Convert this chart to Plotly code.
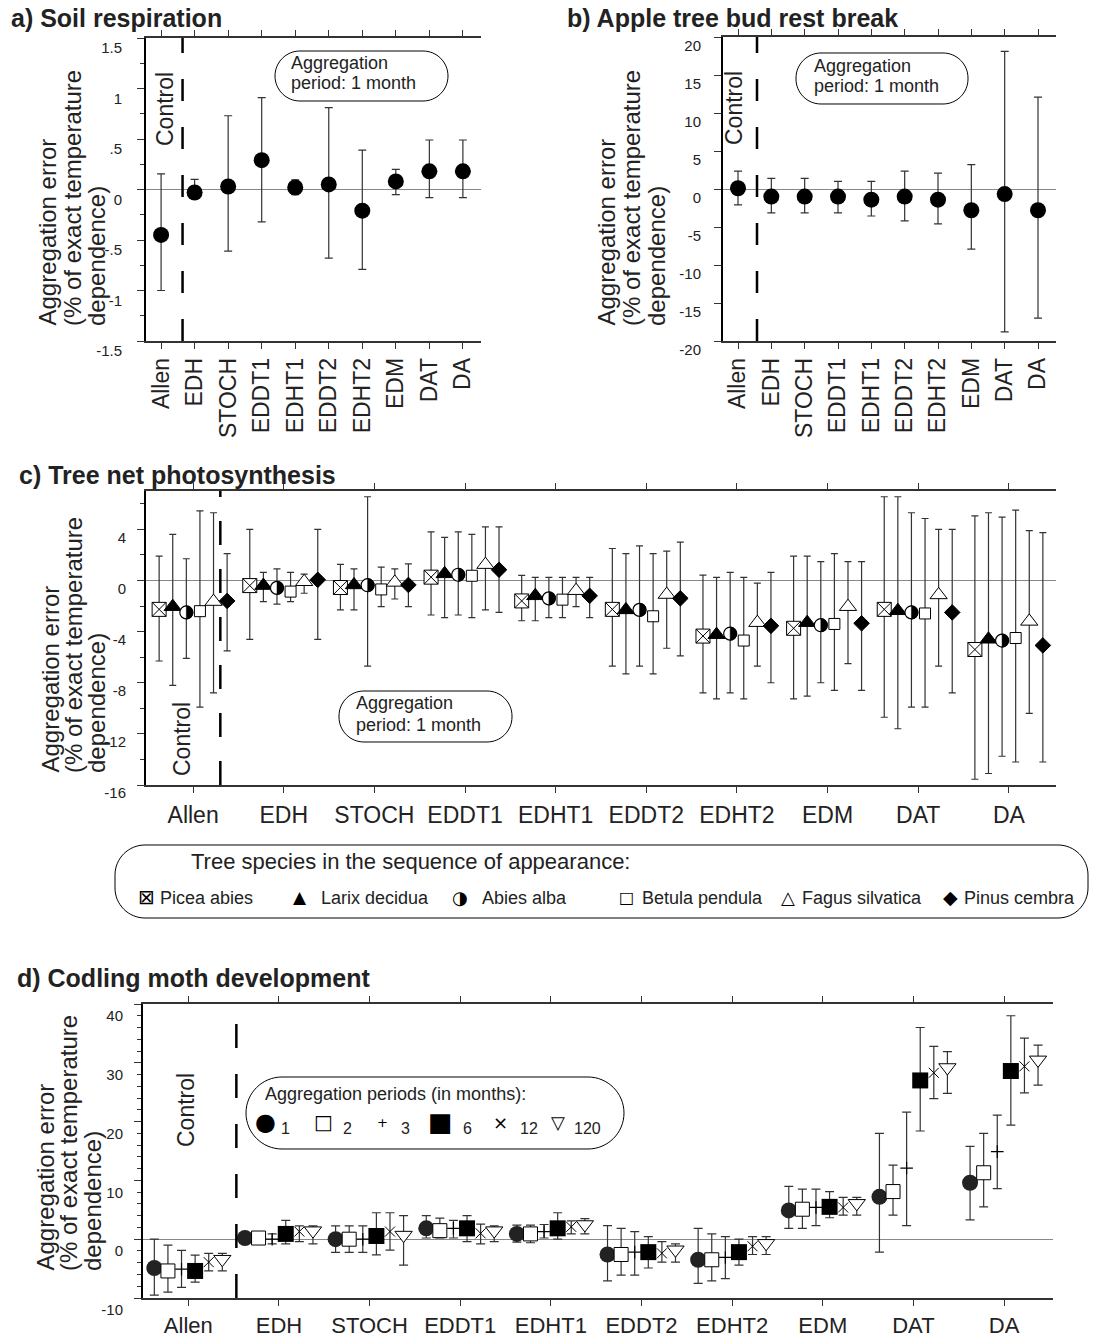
import plotly.graph_objects as go

W, H = 1094, 1344
FONT = "Liberation Sans, Arial, sans-serif"
SYM = "DejaVu Sans"

def fx(x):
    return x / W

def fy(y):
    return 1 - y / H

# ---------------- data ----------------
categories = ["Allen", "EDH", "STOCH", "EDDT1", "EDHT1", "EDDT2", "EDHT2", "EDM", "DAT", "DA"]

# a) Soil respiration (aggregation period 1 month)
soil_val = [-0.45, -0.03, 0.03, 0.29, 0.02, 0.05, -0.21, 0.08, 0.18, 0.18]
soil_hi = [0.155, 0.10, 0.73, 0.91, 0.095, 0.81, 0.39, 0.20, 0.49, 0.49]
soil_lo = [-1.0, -0.08, -0.61, -0.32, -0.05, -0.68, -0.79, -0.05, -0.08, -0.08]

# b) Apple tree bud rest break
apple_val = [0.1, -1.0, -1.0, -1.0, -1.4, -1.0, -1.4, -2.8, -0.67, -2.8]
apple_hi = [2.35, 1.4, 1.4, 1.0, 1.0, 2.35, 2.1, 3.2, 18.1, 12.1]
apple_lo = [-2.1, -3.15, -3.15, -3.15, -3.55, -4.2, -4.6, -7.9, -18.8, -17.0]

# c) Tree net photosynthesis, per species
species = ["Picea abies", "Larix decidua", "Abies alba", "Betula pendula", "Fagus silvatica", "Pinus cembra"]
picea_val = [-2.26, -0.4, -0.55, 0.26, -1.6, -2.26, -4.35, -3.74, -2.26, -5.4]
picea_hi = [1.9, 4.0, 1.26, 3.8, 0.4, 2.5, 0.42, 1.9, 6.55, 5.05]
picea_lo = [-6.3, -4.6, -2.3, -2.7, -3.15, -6.7, -8.8, -9.26, -10.7, -15.55]
larix_val = [-2.05, -0.4, -0.35, 0.52, -1.2, -2.3, -4.24, -3.3, -2.37, -4.6]
larix_hi = [3.6, 0.63, 0.9, 3.37, 0.24, 2.1, 0.24, 1.9, 6.55, 5.3]
larix_lo = [-8.2, -1.65, -2.3, -2.9, -3.15, -7.3, -9.26, -9.05, -11.6, -15.1]
abies_val = [-2.5, -0.58, -0.37, 0.45, -1.4, -2.3, -4.16, -3.5, -2.5, -4.7]
abies_hi = [1.7, 0.9, 6.55, 3.8, 0.24, 2.7, 0.63, 1.47, 5.3, 4.95]
abies_lo = [-6.1, -1.85, -6.7, -2.7, -2.9, -6.7, -8.8, -8.0, -9.9, -13.75]
betula_val = [-2.4, -0.87, -0.7, 0.37, -1.5, -2.8, -4.7, -3.4, -2.58, -4.5]
betula_hi = [5.45, 0.63, 1.05, 3.6, 0.24, 2.1, 0.24, 2.1, 4.85, 5.5]
betula_lo = [-9.9, -1.65, -2.05, -2.9, -2.9, -7.3, -9.26, -8.6, -9.9, -14.2]
fagus_val = [-1.65, -0.1, -0.15, 1.24, -0.8, -1.1, -3.3, -2.05, -1.13, -3.2]
fagus_hi = [5.3, 0.5, 0.9, 4.2, 0.24, 2.3, -0.2, 1.47, 4.0, 3.9]
fagus_lo = [-8.8, -1.0, -1.45, -2.3, -2.05, -5.3, -6.7, -6.5, -6.7, -10.4]
pinus_val = [-1.6, 0.05, -0.35, 0.84, -1.2, -1.4, -3.55, -3.35, -2.5, -5.08]
pinus_hi = [2.1, 4.0, 1.3, 4.2, 0.24, 3.0, 0.63, 1.47, 4.0, 3.75]
pinus_lo = [-5.5, -4.6, -2.05, -2.5, -2.9, -5.9, -8.0, -8.6, -8.8, -14.2]

# d) Codling moth development, per aggregation period (months)
periods = ["1", "2", "3", "6", "12", "120"]
p1_val = [-4.9, 0.2, 0.0, 1.85, 0.9, -2.6, -3.5, 4.9, 7.2, 9.6]
p1_hi = [0.0, 1.0, 2.25, 4.0, 2.4, 2.3, 1.85, 9.0, 18.0, 15.8]
p1_lo = [-9.5, -0.6, -2.25, 0.2, -0.5, -7.1, -7.5, 1.85, -2.2, 3.3]
p2_val = [-5.4, 0.2, 0.0, 1.45, 0.9, -2.6, -3.5, 5.1, 8.1, 11.3]
p2_hi = [-1.0, 1.0, 2.25, 3.6, 2.4, 1.85, 0.9, 8.5, 12.6, 18.0]
p2_lo = [-9.0, -0.6, -2.25, 0.2, -0.6, -6.1, -7.1, 1.85, 4.1, 5.5]
p3_val = [-5.1, 0.0, 0.0, 1.85, 1.3, -2.2, -3.1, 5.4, 12.1, 14.9]
p3_hi = [-1.9, 0.9, 2.25, 3.2, 2.5, 1.3, 0.45, 8.5, 21.6, 21.1]
p3_lo = [-8.2, -0.8, -2.25, 0.2, 0.2, -6.1, -6.7, 2.3, 2.3, 8.6]
p6_val = [-5.4, 0.9, 0.55, 1.85, 1.85, -2.2, -2.2, 5.5, 27.0, 28.6]
p6_hi = [-2.7, 3.2, 4.5, 4.0, 4.5, 0.45, 0.0, 8.1, 36.0, 38.0]
p6_lo = [-7.3, -0.8, -2.65, -0.4, 0.0, -4.9, -4.4, 3.65, 18.4, 19.4]
p12_val = [-3.9, 1.3, 1.3, 1.0, 2.1, -2.4, -1.2, 5.4, 28.3, 29.4]
p12_hi = [-2.4, 2.25, 4.5, 2.55, 3.1, -0.4, 0.45, 7.1, 32.8, 34.2]
p12_lo = [-5.4, -0.4, -1.85, -0.8, 0.9, -3.9, -2.6, 4.1, 23.9, 24.9]
p120_val = [-3.4, 1.45, 0.7, 1.45, 2.5, -1.8, -0.7, 6.1, 29.2, 30.5]
p120_hi = [-2.4, 2.25, 4.0, 2.25, 3.5, -0.8, 0.45, 7.1, 31.9, 33.0]
p120_lo = [-5.4, -0.8, -4.4, -0.4, 0.9, -3.9, -2.6, 4.1, 24.8, 26.2]

# ---------------- helpers ----------------
OFFSETS = [-0.375, -0.225, -0.075, 0.075, 0.225, 0.375]
idx = list(range(len(categories)))


def err(val, hi, lo, color="#333", width=4, thick=1.2):
    return dict(type="data", symmetric=False,
                array=[h - v for v, h in zip(val, hi)],
                arrayminus=[v - l for v, l in zip(val, lo)],
                color=color, thickness=thick, width=width)


fig = go.Figure()


def add_series(xs, val, hi, lo, xa, ya, marker, capw=4, ecolor="#333"):
    fig.add_trace(go.Scatter(x=xs, y=val, mode="markers", xaxis=xa, yaxis=ya,
                             marker=marker, error_y=err(val, hi, lo, ecolor, capw),
                             showlegend=False, hoverinfo="skip"))


# a
add_series(idx, soil_val, soil_hi, soil_lo, "x", "y",
           dict(symbol="circle", size=16, color="black"))
# b
add_series(idx, apple_val, apple_hi, apple_lo, "x2", "y2",
           dict(symbol="circle", size=16, color="black"))

# c
c_sets = [
    (picea_val, picea_hi, picea_lo, dict(symbol="square-x", size=14, color="white", line=dict(color="black", width=1))),
    (larix_val, larix_hi, larix_lo, dict(symbol="triangle-up", size=15, color="black", line=dict(color="black", width=1))),
    (abies_val, abies_hi, abies_lo, dict(symbol="circle", size=13, color="white", line=dict(color="black", width=1.2))),
    (betula_val, betula_hi, betula_lo, dict(symbol="square", size=11, color="white", line=dict(color="black", width=1))),
    (fagus_val, fagus_hi, fagus_lo, dict(symbol="triangle-up", size=15, color="white", line=dict(color="black", width=1))),
    (pinus_val, pinus_hi, pinus_lo, dict(symbol="diamond", size=12, color="black", line=dict(color="black", width=1))),
]
for k, (v, h, l, m) in enumerate(c_sets):
    xs = [i + OFFSETS[k] for i in idx]
    add_series(xs, v, h, l, "x3", "y3", m, capw=3.5)

# d
d_sets = [
    (p1_val, p1_hi, p1_lo, dict(symbol="circle", size=16, color="#222")),
    (p2_val, p2_hi, p2_lo, dict(symbol="square", size=14, color="white", line=dict(color="black", width=1))),
    (p3_val, p3_hi, p3_lo, dict(symbol="cross-thin", size=9, color="black", line=dict(color="black", width=1.2))),
    (p6_val, p6_hi, p6_lo, dict(symbol="square", size=16, color="black")),
    (p12_val, p12_hi, p12_lo, dict(symbol="x-thin", size=10, color="black", line=dict(color="black", width=1))),
    (p120_val, p120_hi, p120_lo, dict(symbol="triangle-down", size=15, color="white", line=dict(color="black", width=1))),
]
for k, (v, h, l, m) in enumerate(d_sets):
    xs = [i + OFFSETS[k] for i in idx]
    add_series(xs, v, h, l, "x4", "y4", m, capw=4.5)

# ---------------- axes ----------------
def xcfg(dom, rng, anchor, rotated, standoff, fsize=23):
    return dict(domain=[fx(dom[0]), fx(dom[1])], range=rng, anchor=anchor, automargin=False,
                tickmode="array", tickvals=idx, ticktext=categories,
                ticks="outside", ticklen=6, tickcolor="#333", tickwidth=1,
                showline=True, linecolor="#333", linewidth=1.5, mirror="ticks",
                tickangle=-90 if rotated else 0, ticklabelstandoff=standoff,
                tickfont=dict(size=fsize, color="#222", family=FONT),
                showgrid=False, zeroline=False, fixedrange=True)


def ycfg(dom, rng, anchor, vals, texts, minor, shift, standoff):
    return dict(domain=[fy(dom[1]), fy(dom[0])], range=rng, anchor=anchor, automargin=False,
                tickmode="array", tickvals=vals, ticktext=texts,
                ticks="outside", ticklen=7, tickcolor="#333",
                minor=dict(tickmode="linear", tick0=0, dtick=minor, ticks="outside", ticklen=4, tickcolor="#333") if minor else None,
                showline=True, linecolor="black", linewidth=2,
                showgrid=False, zeroline=True, zerolinecolor="#888", zerolinewidth=1,
                tickfont=dict(size=15, color="#222", family=FONT),
                ticklabelshift=shift, ticklabelstandoff=standoff, fixedrange=True)


def yright(over, rng, anchor, vals, texts, minor, shift):
    return dict(overlaying=over, side="right", anchor=anchor, range=rng, automargin=False,
                tickmode="array", tickvals=vals, ticktext=texts,
                ticks="outside", ticklen=7, tickcolor="#555",
                minor=dict(tickmode="linear", tick0=0, dtick=minor, ticks="outside", ticklen=4, tickcolor="#555") if minor else None,
                showline=True, linecolor="#777", linewidth=1.5,
                showgrid=False, zeroline=False,
                tickfont=dict(size=15, color="#222", family=FONT),
                ticklabelshift=shift, ticklabelstandoff=4, fixedrange=True)


a_ticks = [-1.5, -1, -0.5, 0, 0.5, 1, 1.5]
a_text = ["-1.5", "-1", "-.5", "0", ".5", "1", "1.5"]
b_ticks = [-20, -15, -10, -5, 0, 5, 10, 15, 20]
b_text = [str(t) for t in b_ticks]
c_ticks = [-16, -12, -8, -4, 0, 4]
c_text = [str(t) for t in c_ticks]
d_ticks = [-10, 0, 10, 20, 30, 40]
d_text = [str(t) for t in d_ticks]

A_X, A_Y = (146, 481), (38, 341)
B_X, B_Y = (723, 1056), (37, 341)
C_X, C_Y = (146, 1056), (491, 785)
D_X, D_Y = (143, 1053), (1004, 1298)

fig.update_layout(
    xaxis=xcfg(A_X, [-0.45, 9.54], "y", True, 0),
    yaxis=ycfg(A_Y, [-1.5, 1.5], "x", a_ticks, a_text, 0.25, 10, 12),
    yaxis5=yright("y", [-1.5, 1.5], "x", a_ticks, a_text, 0.25, 10),
    xaxis2=xcfg(B_X, [-0.45, 9.54], "y2", True, 0),
    yaxis2=ycfg(B_Y, [-20, 20], "x2", b_ticks, b_text, None, 9, 10),
    yaxis6=yright("y2", [-20, 20], "x2", b_ticks, b_text, None, 3),
    xaxis3=xcfg(C_X, [-0.52, 9.52], "y3", False, 3),
    yaxis3=ycfg(C_Y, [-16, 7], "x3", c_ticks, c_text, 2, 8, 8),
    yaxis7=yright("y3", [-16, 7], "x3", c_ticks, c_text, 2, 3),
    xaxis4=xcfg(D_X, [-0.50, 9.54], "y4", False, 1, 22),
    yaxis4=ycfg(D_Y, [-10, 40], "x4", d_ticks, d_text, 2, 12, 8),
    yaxis8=yright("y4", [-10, 40], "x4", d_ticks, d_text, 2, 5),
)

# ---------------- shapes ----------------
shapes = []

# control dashed lines
for xr, yr, xpos, dash in [("x", "y domain", 0.64, "22px,26px"), ("x2", "y2 domain", 0.57, "22px,26px"),
                           ("x3", "y3 domain", 0.30, "24px,24px"), ("x4", "y4 domain", 0.53, "24px,26px")]:
    shapes.append(dict(type="line", xref=xr, yref=yr, x0=xpos, x1=xpos, y0=0, y1=1,
                       line=dict(color="black", width=2.5, dash=dash), layer="above"))


def rounded(x0, y0, x1, y1, rx, ry):
    k = 0.5523
    P = lambda x, y: f"{fx(x):.5f},{fy(y):.5f}"
    d = "M" + P(x0 + rx, y0)
    d += " L" + P(x1 - rx, y0)
    d += " C" + P(x1 - rx + k * rx, y0) + " " + P(x1, y0 + ry - k * ry) + " " + P(x1, y0 + ry)
    d += " L" + P(x1, y1 - ry)
    d += " C" + P(x1, y1 - ry + k * ry) + " " + P(x1 - rx + k * rx, y1) + " " + P(x1 - rx, y1)
    d += " L" + P(x0 + rx, y1)
    d += " C" + P(x0 + rx - k * rx, y1) + " " + P(x0, y1 - ry + k * ry) + " " + P(x0, y1 - ry)
    d += " L" + P(x0, y0 + ry)
    d += " C" + P(x0, y0 + ry - k * ry) + " " + P(x0 + rx - k * rx, y0) + " " + P(x0 + rx, y0) + " Z"
    return dict(type="path", xref="paper", yref="paper", path=d,
                line=dict(color="black", width=1), fillcolor="rgba(0,0,0,0)", layer="above")


shapes.append(rounded(275, 51, 448, 101, 25, 25))
shapes.append(rounded(796, 53, 968, 104, 25, 25))
shapes.append(rounded(339, 691, 512, 742, 25, 25))
shapes.append(rounded(115, 845, 1088, 918, 30, 30))
shapes.append(rounded(246, 1077, 624, 1149, 36, 36))

# right half filled for Abies alba markers (half-black circle)
r = 6.6
kk = 0.5523
half = (f"M0,{r} C{kk*r:.3f},{r} {r},{kk*r:.3f} {r},0 "
        f"C{r},{-kk*r:.3f} {kk*r:.3f},{-r} 0,{-r} Z")
for i, v in zip(idx, abies_val):
    shapes.append(dict(type="path", xref="x3", yref="y3", xsizemode="pixel", ysizemode="pixel",
                       xanchor=i + OFFSETS[2], yanchor=v, path=half,
                       fillcolor="black", line=dict(color="black", width=0.5), layer="above"))

fig.update_layout(shapes=shapes)

# ---------------- annotations ----------------
anns = []


def ann(text, x, y, size, xanchor="left", yanchor="middle", angle=0, bold=False, family=FONT, color="#222"):
    anns.append(dict(text=f"<b>{text}</b>" if bold else text, x=fx(x), y=fy(y), xref="paper", yref="paper",
                     xanchor=xanchor, yanchor=yanchor, textangle=angle, showarrow=False,
                     font=dict(size=size, family=family, color=color)))


# titles
ann("a) Soil respiration", 9, 18, 25, bold=True)
ann("b) Apple tree bud rest break", 565, 18, 25, bold=True)
ann("c) Tree net photosynthesis", 17, 475, 25, bold=True)
ann("d) Codling moth development", 15, 978, 25, bold=True)

# y-axis titles (three lines, rotated, bottom aligned)
ytitle = ["Aggregation error", "(% of exact temperature", "dependence)"]
for xs, ybot in [((47, 72, 96), 328), ((606, 631, 656), 328), ((50, 73, 96), 775), ((45, 68, 92), 1273)]:
    for line, xc in zip(ytitle, xs):
        ann(line, xc, ybot, 24, xanchor="center", yanchor="bottom", angle=-90)

# Control labels
for xc, yc in [(165, 109), (734, 108), (182, 739), (186, 1110)]:
    ann("Control", xc, yc, 23, xanchor="center", angle=-90)

# aggregation period boxes
for x0, y1, y2 in [(289, 63, 83), (812, 66, 86), (354, 703, 725)]:
    ann("Aggregation", x0, y1, 18)
    ann("period: 1 month", x0, y2, 18)

# legend for c
ann("Tree species in the sequence of appearance:", 189, 861, 22)
c_syms = ["⊠", "▲", "◑", "□", "△", "◆"]
c_sym_x = [146, 300, 460, 626, 788, 950]
c_sym_sz = [20, 17, 18, 16, 18, 19]
c_txt_x = [158, 319, 480, 640, 800, 962]
for s, sx, sz, tx, name in zip(c_syms, c_sym_x, c_sym_sz, c_txt_x, species):
    ann(s, sx, 897, sz, xanchor="center", family=SYM, color="black")
    ann(name, tx, 898, 18)

# legend for d
ann("Aggregation periods (in months):", 263, 1094, 18)
d_syms = ["●", "□", "+", "■", "×", "▽"]
d_sym_x = [265, 323, 382, 440, 500, 558]
d_sym_sz = [24, 20, 13, 26, 18, 18]
d_txt_x = [279, 341, 399, 461, 518, 572]
for s, sx, sz, tx, p in zip(d_syms, d_sym_x, d_sym_sz, d_txt_x, periods):
    ann(s, sx, 1122, sz, xanchor="center", family=SYM, color="black")
    ann(p, tx, 1128, 16)

fig.update_layout(annotations=anns)

fig.update_layout(width=W, height=H, margin=dict(l=0, r=0, t=0, b=0, autoexpand=False),
                  paper_bgcolor="white", plot_bgcolor="white",
                  font=dict(family=FONT, color="#222"), showlegend=False)

fig.write_html("out.html")
